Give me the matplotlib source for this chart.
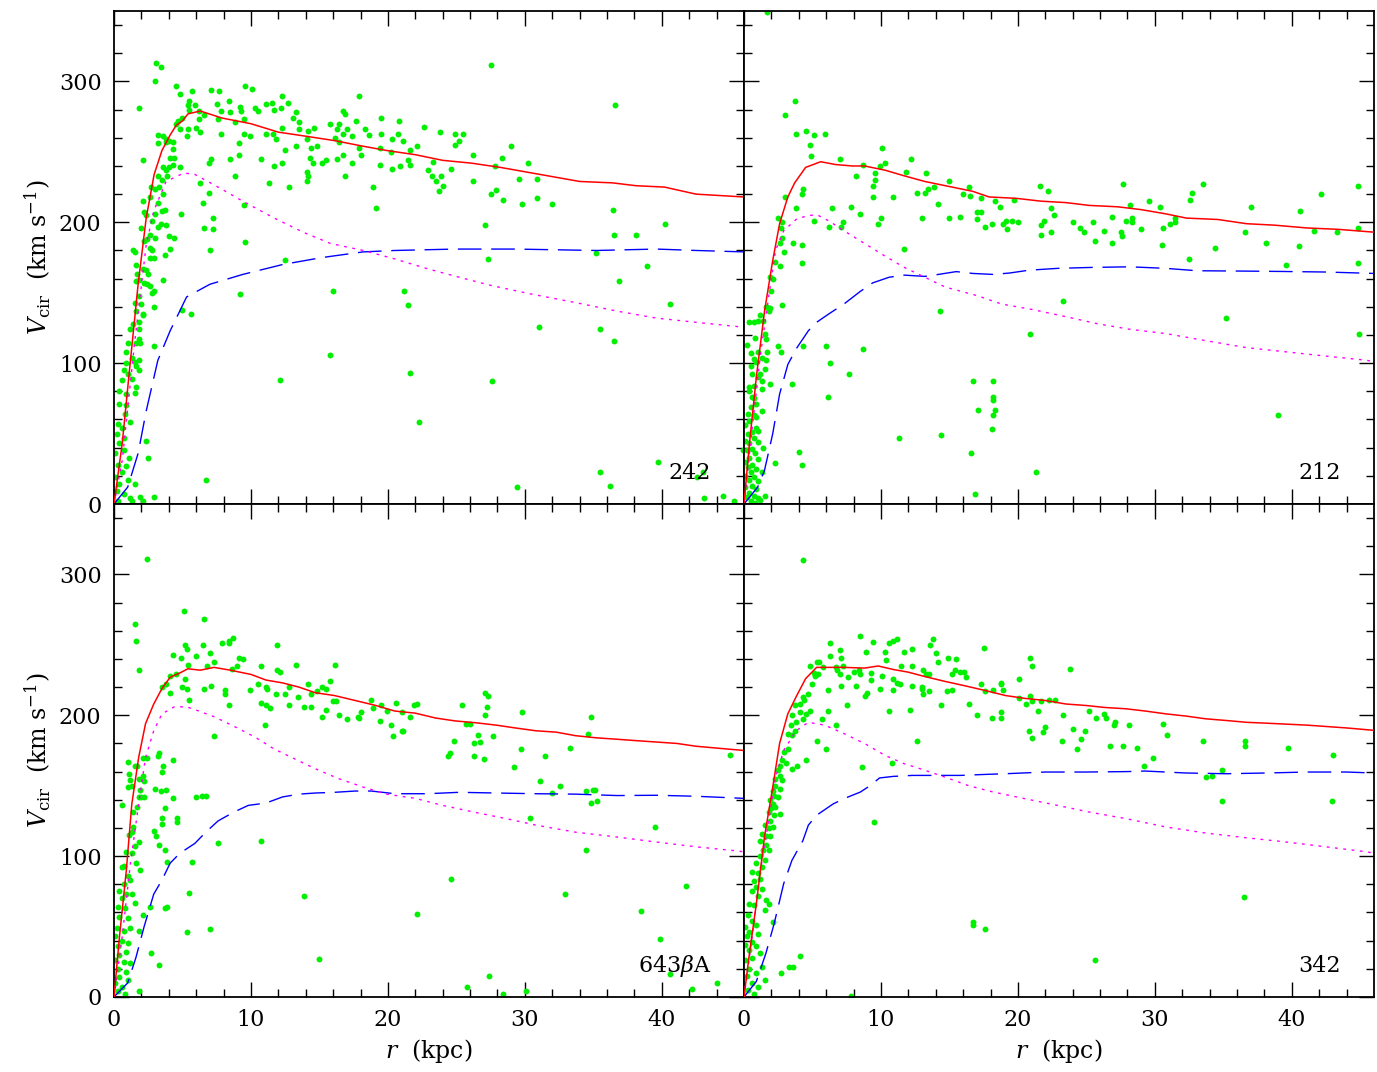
import numpy as np
import matplotlib.pyplot as plt

plt.rcParams['font.family'] = ['DejaVu Serif']
plt.rcParams['mathtext.fontset'] = 'dejavuserif'

# panel names (top-left, top-right, bottom-left, bottom-right)
names = ['242', '212', '643$\\beta$A', '342']

# ---- panel 242 ----
tot_242 = [(0, 0), (0.6, 43), (1.17, 99), (1.76, 156), (2.35, 203), (2.93, 234), (3.5, 251),
           (4.1, 262), (4.55, 269), (5.0, 272), (5.4, 277), (6.3, 279), (7.9, 274), (10, 270),
           (12, 264), (14.1, 261), (16.1, 258), (18.2, 254), (19.9, 251), (22, 248), (24, 244),
           (26.1, 242), (28.2, 239), (31.1, 234), (34, 229), (36.4, 228), (38.1, 226), (40.2, 225),
           (42.5, 220), (46, 218)]
star_242 = [(0, 0), (0.6, 31), (1.5, 114), (2.35, 184), (2.9, 208), (3.8, 229), (5.1, 235),
            (5.9, 234), (7.6, 225), (9.4, 215), (11.7, 203), (13.8, 193), (15.8, 185), (18.2, 180),
            (20.5, 174), (22.9, 167), (25.2, 161), (27.6, 155), (30.5, 149), (33.7, 143),
            (36.7, 137), (39.6, 132), (42.5, 129), (45.5, 126), (46, 125)]
dm_242 = [(0, 0), (1.0, 12), (1.76, 36), (2.35, 66), (3.2, 102), (4.1, 123), (5.3, 147), (7.0, 156),
          (9.4, 163), (12.3, 170), (15.2, 175), (18.2, 179), (20.5, 180), (24.9, 181), (29.3, 181),
          (35.2, 180), (39.6, 181), (42.5, 180), (46, 179)]
pts_242 = [(3.1, 313), (3.4, 310), (3.0, 300), (1.8, 281), (4.5, 297), (4.8, 291), (5.7, 293),
           (7.1, 294), (7.7, 293), (9.6, 297), (10.1, 295), (12.3, 290), (12.7, 285), (17.9, 290),
           (27.5, 312), (36.6, 283), (5.5, 286), (5.4, 283), (5.5, 280), (5.9, 283), (6.2, 279),
           (6.6, 276), (6.2, 273), (5.0, 274), (4.7, 272), (4.5, 270), (4.8, 266), (5.4, 266),
           (5.3, 261), (6.0, 267), (6.3, 264), (7.5, 284), (8.4, 286), (7.8, 279), (8.5, 278),
           (9.2, 282), (9.3, 279), (10.3, 281), (10.5, 279), (11.1, 284), (11.5, 285), (11.7, 280),
           (12.2, 281), (13.1, 274), (13.3, 278), (13.5, 271), (13.5, 266), (14.2, 265), (14.6, 267),
           (15.8, 270), (16.4, 270), (16.3, 266), (16.7, 279), (16.9, 277), (17.0, 266), (17.7, 272),
           (18.3, 266), (18.6, 262), (19.5, 274), (19.5, 263), (20.3, 259), (20.8, 272), (20.7, 263),
           (21.1, 258), (22.6, 268), (23.8, 264), (24.9, 263), (25.5, 263), (25.2, 258), (24.9, 255),
           (7.6, 273), (7.8, 263), (8.8, 271), (9.5, 273), (9.5, 263), (9.9, 261), (11.1, 263),
           (11.6, 263), (11.8, 259), (12.3, 267), (12.5, 251), (13.3, 254), (14.1, 259), (14.4, 253),
           (14.8, 254), (14.3, 246), (14.5, 242), (15.2, 242), (15.5, 244), (16.3, 245), (16.7, 248),
           (16.1, 260), (16.4, 257), (16.7, 263), (17.4, 261), (17.9, 253), (18.0, 248), (17.4, 242),
           (16.9, 233), (19.4, 253), (19.4, 241), (20.3, 238), (20.9, 240), (20.2, 250), (21.6, 251),
           (21.5, 244), (21.6, 241), (22.1, 254), (23.3, 243), (22.9, 237), (23.2, 233), (23.5, 229),
           (23.7, 222), (23.9, 233), (24.0, 226), (24.6, 238), (26.2, 248), (26.2, 229), (27.8, 240),
           (28.3, 246), (29.0, 254), (30.2, 242), (29.6, 231), (30.9, 231), (30.9, 217), (32.0, 213),
           (29.8, 213), (28.4, 216), (27.5, 220), (27.9, 223), (12.8, 225), (11.3, 228), (14.1, 236),
           (14.2, 233), (14.1, 229), (11.7, 240), (12.3, 242), (10.7, 245), (8.8, 233), (8.5, 245),
           (9.1, 256), (9.1, 248), (6.9, 242), (7.1, 245), (6.3, 228), (6.9, 221), (6.5, 214),
           (7.2, 203), (7.2, 195), (6.6, 196), (7.0, 180), (4.9, 206), (4.4, 246), (4.8, 239),
           (18.9, 225), (19.1, 210), (27.1, 198), (36.4, 209), (36.5, 191), (38.1, 191), (40.2, 199),
           (35.2, 178), (27.3, 174), (38.9, 169), (36.9, 158), (40.6, 142), (31.0, 126), (35.5, 124),
           (36.5, 116), (21.2, 151), (21.5, 141), (16.0, 151), (15.8, 106), (21.6, 93), (27.6, 87),
           (12.1, 88), (22.3, 58), (9.2, 149), (9.6, 186), (9.5, 212), (12.5, 173), (5.0, 138),
           (5.6, 135), (6.7, 17), (2.9, 5), (2.1, 2), (29.4, 12), (35.5, 23), (36.2, 13), (39.7, 30),
           (42.6, 19), (43.0, 23), (43.1, 4), (44.5, 6), (45.3, 2), (45.9, 38), (3.6, 159), (2.9, 140),
           (2.9, 112), (2.3, 45), (2.5, 33), (2.9, 151), (2.1, 244), (3.2, 256), (3.2, 262), (3.6, 261),
           (3.8, 259), (3.8, 257), (4.0, 258), (4.3, 257), (4.3, 252), (4.1, 246), (4.3, 241),
           (4.0, 239), (3.6, 239), (3.8, 237), (3.9, 233), (3.2, 233), (3.5, 230), (3.3, 225),
           (3.0, 224), (2.7, 225), (2.6, 218), (3.6, 220), (3.2, 214), (3.5, 208), (3.7, 209),
           (3.0, 206), (2.1, 215), (2.2, 207), (2.3, 205), (2.8, 201), (2.0, 196), (2.2, 187),
           (2.4, 188), (2.8, 180), (2.9, 175), (2.6, 175), (2.6, 182), (3.8, 198), (3.4, 199),
           (4.0, 190), (4.4, 189), (4.1, 181), (3.7, 177), (3.0, 189), (3.2, 197), (2.6, 191),
           (1.4, 180), (1.5, 179), (1.6, 170), (1.7, 163), (2.1, 167), (2.3, 166), (2.5, 163),
           (1.8, 159), (1.6, 158), (2.2, 157), (2.4, 156), (2.6, 155), (2.8, 150), (1.8, 148),
           (1.5, 143), (2.0, 142), (1.6, 137), (2.1, 135), (2.1, 134), (1.8, 129), (1.4, 128),
           (1.2, 124), (1.8, 124), (1.9, 114), (1.6, 114), (1.8, 117), (1.0, 114), (0.9, 108),
           (1.3, 104), (1.5, 101), (1.8, 102), (1.6, 98), (1.8, 95), (0.9, 100), (0.7, 95), (1.0, 92),
           (1.3, 89), (0.6, 88), (0.4, 80), (0.9, 78), (1.5, 79), (1.6, 83), (0.4, 71), (0.9, 70),
           (0.8, 64), (0.3, 57), (0.6, 54), (0.2, 50), (0.7, 47), (1.2, 58), (0.4, 43), (0.1, 36),
           (0.7, 38), (1.1, 33), (0.3, 28), (0.9, 27), (0.6, 23), (0.1, 19), (1.0, 17), (0.4, 14),
           (1.5, 14), (0.2, 9), (0.7, 7), (1.2, 4), (0.3, 2), (1.3, 2), (1.9, 5)]

# ---- panel 212 ----
tot_212 = [(0, 0), (0.4, 43), (0.9, 90), (1.5, 137), (2.1, 173), (2.6, 199), (3.2, 218), (3.7, 228),
           (4.5, 239), (5.6, 243), (6.7, 241), (7.9, 240), (8.8, 240), (10.3, 237), (11.7, 233),
           (13.2, 229), (15.2, 225), (16.7, 222), (17.9, 218), (19.9, 217), (21.7, 215), (23.5, 214),
           (25.2, 212), (27.3, 211), (29.0, 209), (30.8, 206), (32.3, 203), (34.6, 202), (36.7, 199),
           (38.7, 198), (41.1, 196), (43.4, 195), (46, 193)]
star_212 = [(0, 0), (0.6, 54), (1.2, 106), (1.8, 147), (2.3, 180), (2.9, 194), (3.8, 202), (4.7, 205),
            (5.4, 205), (6.2, 201), (7.3, 194), (8.8, 185), (10.3, 176), (11.7, 168), (13.2, 161),
            (14.7, 154), (17.0, 148), (18.8, 142), (21.1, 138), (23.5, 133), (25.8, 128), (28.2, 124),
            (30.8, 121), (33.7, 116), (36.7, 111), (39.6, 108), (42.5, 105), (45.5, 102), (46, 101)]
dm_212 = [(0, 0), (1.0, 12), (1.5, 24), (2.1, 50), (2.6, 78), (3.2, 99), (3.8, 110), (4.7, 123),
          (5.3, 129), (6.2, 135), (7.3, 142), (8.5, 151), (9.4, 157), (10.6, 161), (11.7, 162.5),
          (13.2, 161.6), (14.2, 163), (15.5, 165), (16.7, 163.7), (18.2, 163), (19.4, 164), (20.8, 166),
          (22.9, 167.3), (25.5, 168), (28.2, 168.4), (30.8, 167.3), (33.1, 165.6), (36.1, 165.4),
          (39.3, 165.1), (42.5, 164.7), (46, 163.7)]
pts_212 = [(1.7, 349), (3.7, 286), (3.0, 276), (3.8, 263), (4.5, 265), (5.1, 262), (5.9, 263),
           (4.8, 255), (4.9, 247), (10.1, 253), (10.3, 242), (9.9, 240), (9.6, 235), (9.6, 230),
           (9.4, 226), (9.4, 218), (7.0, 245), (8.7, 241), (8.2, 233), (12.2, 245), (11.8, 236),
           (13.3, 235), (12.6, 221), (13.2, 221), (13.4, 224), (13.9, 225), (15.0, 229), (10.9, 218),
           (16.4, 225), (16.0, 220), (16.5, 219), (17.3, 217), (14.2, 213), (13.0, 203), (15.0, 203),
           (15.8, 204), (17.0, 207), (17.3, 207), (17.0, 202), (17.6, 197), (18.1, 199), (18.3, 215),
           (18.7, 211), (18.9, 199), (19.1, 201), (19.2, 195), (19.6, 201), (20.0, 200), (19.7, 216),
           (21.6, 226), (22.2, 222), (22.4, 210), (22.6, 205), (21.9, 201), (21.7, 198), (21.7, 191),
           (22.4, 193), (24.0, 200), (24.5, 196), (24.8, 193), (25.5, 200), (25.6, 187), (26.3, 194),
           (26.9, 204), (26.9, 185), (27.5, 193), (27.6, 190), (27.7, 227), (27.9, 201), (28.2, 212),
           (28.3, 203), (28.3, 200), (29.0, 195), (29.6, 215), (30.4, 211), (30.6, 196), (30.5, 184),
           (31.1, 199), (31.5, 200), (31.5, 203), (32.5, 174), (32.6, 216), (32.7, 221), (33.5, 227),
           (34.4, 182), (36.6, 193), (37.0, 211), (38.1, 185), (39.6, 170), (40.5, 183), (40.6, 208),
           (41.6, 194), (42.1, 220), (43.3, 193), (44.8, 196), (44.8, 226), (44.8, 171), (44.9, 121),
           (35.2, 132), (39.0, 63), (23.3, 144), (20.9, 121), (14.3, 137), (11.7, 181), (16.7, 87),
           (18.2, 87), (18.2, 76), (18.2, 74), (18.3, 67), (18.2, 63), (18.1, 53), (17.1, 67),
           (16.6, 36), (16.9, 7), (21.3, 23), (14.4, 49), (11.3, 47), (7.7, 92), (6.1, 76), (6.3, 100),
           (6.0, 112), (8.7, 110), (4.3, 112), (3.5, 85), (4.0, 37), (4.2, 28), (2.3, 29), (1.5, 6),
           (6.2, 197), (6.4, 210), (7.1, 197), (7.2, 200), (7.8, 211), (8.5, 206), (9.8, 199),
           (10.0, 203), (5.1, 201), (4.2, 184), (4.2, 171), (3.6, 185), (3.8, 210), (4.3, 224),
           (4.2, 220), (3.0, 218), (2.5, 203), (2.7, 196), (2.8, 189), (2.6, 185), (2.9, 179),
           (2.8, 200), (2.3, 172), (2.6, 169), (1.9, 161), (2.1, 160), (2.0, 151), (1.7, 140),
           (1.9, 139), (1.8, 137), (2.8, 141), (1.6, 140), (1.2, 134), (1.0, 130), (1.4, 130),
           (0.4, 129), (0.7, 129), (1.5, 121), (0.8, 118), (1.6, 117), (0.2, 113), (2.5, 112),
           (2.7, 108), (1.0, 108), (1.7, 108), (0.5, 107), (1.3, 104), (0.7, 103), (1.6, 102),
           (0.9, 101), (0.5, 98), (1.5, 96), (1.2, 92), (0.6, 92), (1.0, 90), (1.3, 87), (0.7, 84),
           (0.4, 83), (1.9, 85), (1.3, 82), (0.4, 80), (0.6, 76), (0.7, 75), (0.9, 71), (0.5, 69),
           (0.3, 64), (0.7, 63), (0.9, 62), (1.3, 66), (0.4, 59), (0.1, 56), (0.9, 54), (0.6, 51),
           (1.0, 52), (0.3, 50), (0.7, 47), (0.1, 45), (0.4, 43), (1.0, 44), (0.6, 39), (1.4, 40),
           (0.2, 38), (0.8, 36), (0.4, 33), (1.0, 32), (0.1, 30), (0.6, 28), (0.3, 26), (0.9, 25),
           (0.5, 23), (1.3, 23), (0.1, 20), (0.7, 19), (0.4, 17), (1.0, 16), (0.6, 13), (0.1, 12),
           (0.9, 11), (0.4, 8), (0.7, 6), (0.2, 5), (1.0, 4), (0.5, 2), (0.8, 1), (1.2, 3)]

# ---- panel 643bA ----
tot_643 = [(0, 0), (0.4, 43), (0.9, 90), (1.3, 137), (1.8, 170), (2.3, 194), (2.9, 208), (3.5, 219),
           (4.1, 227), (4.8, 230), (5.4, 233), (6.3, 232), (7.3, 234), (8.5, 232), (10.0, 229),
           (11.1, 225), (12.3, 223), (13.5, 220), (14.7, 216), (16.1, 214), (17.6, 210.5), (19.1, 207),
           (20.5, 203), (22.0, 201.5), (23.5, 198), (24.9, 196), (26.4, 194.7), (27.9, 193), (29.3, 191),
           (30.8, 189), (32.3, 188), (33.7, 185.5), (35.2, 184), (36.7, 183), (38.1, 182), (39.6, 181),
           (41.1, 180), (42.5, 178), (44, 176.7), (46, 175)]
star_643 = [(0, 0), (0.6, 43), (1.2, 95), (1.8, 137), (2.3, 170), (2.9, 189), (3.5, 201), (4.4, 206),
            (5.3, 206), (6.2, 203), (7.3, 199), (8.8, 192), (10.3, 184.5), (11.7, 176), (13.2, 169),
            (14.7, 162), (16.4, 155), (18.2, 149), (19.9, 144), (22.0, 141), (24.0, 136), (26.4, 131),
            (28.7, 126.5), (30.8, 122), (33.7, 117), (36.7, 113.6), (39.6, 110), (42.5, 106.6),
            (45.5, 103.7), (46, 103)]
dm_643 = [(0, 0), (1.0, 10), (1.6, 28), (2.2, 50), (2.9, 73), (3.5, 83), (4.1, 95), (4.8, 102),
          (5.9, 109), (6.7, 117), (7.6, 125), (8.7, 131), (9.8, 136), (11.1, 137.7), (12.3, 142),
          (13.5, 144), (14.7, 144.8), (16.1, 145.3), (17.6, 146.2), (18.8, 146.2), (20.5, 144.3),
          (22.9, 144.3), (25.2, 145.3), (27.9, 144.8), (30.8, 144.3), (33.7, 144), (36.7, 143),
          (39.6, 143.2), (42.5, 142.5), (46, 141)]
pts_643 = [(2.4, 311), (1.5, 265), (1.6, 253), (1.8, 232), (5.1, 274), (6.6, 268), (5.2, 250),
           (5.3, 247), (6.5, 250), (7.0, 244), (7.9, 251), (8.4, 251), (8.4, 253), (8.7, 255),
           (11.9, 250), (4.3, 243), (4.9, 241), (6.0, 242), (5.4, 236), (6.8, 235), (7.3, 238),
           (9.1, 241), (9.4, 240), (9.0, 235), (8.6, 233), (10.7, 235), (11.9, 232), (12.1, 231),
           (13.3, 236), (16.1, 236), (4.1, 228), (4.5, 229), (5.2, 226), (3.8, 222), (3.5, 220),
           (4.1, 216), (5.0, 220), (5.3, 219), (5.5, 211), (6.6, 219), (7.1, 221), (8.1, 218),
           (8.1, 215), (8.4, 207), (7.3, 185), (9.9, 218), (10.5, 222), (11.1, 220), (11.2, 219),
           (10.7, 209), (11.1, 207), (11.4, 205), (11.0, 193), (11.8, 215), (12.5, 215), (12.8, 220),
           (13.4, 213), (12.8, 207), (13.9, 206), (14.4, 206), (14.4, 215), (14.2, 222), (14.8, 217),
           (15.2, 220), (15.5, 219), (15.8, 224), (16.0, 210), (16.2, 210), (15.5, 204), (15.2, 199),
           (16.4, 200), (17.0, 197), (17.8, 199), (18.0, 202), (17.9, 198), (18.8, 211), (18.9, 205),
           (19.4, 196), (19.5, 207), (19.9, 203), (20.2, 193), (20.4, 185), (20.6, 209), (21.0, 189),
           (21.1, 189), (21.0, 202), (21.6, 199), (21.9, 207), (22.1, 208), (24.4, 171), (24.5, 173),
           (24.8, 182), (25.4, 207), (25.7, 194), (26.0, 194), (26.6, 186), (26.3, 180), (26.7, 181),
           (26.3, 171), (27.0, 169), (27.1, 216), (27.3, 214), (27.2, 206), (27.1, 200), (27.7, 185),
           (29.8, 202), (29.7, 176), (29.2, 163), (31.5, 171), (31.1, 153), (32.0, 145), (32.6, 150),
           (33.3, 177), (34.6, 187), (34.8, 199), (34.5, 146), (35.0, 147), (35.1, 147), (34.8, 138),
           (35.3, 139), (30.4, 127), (34.5, 104), (39.5, 121), (45.0, 172), (41.8, 79), (38.5, 61),
           (39.9, 41), (40.6, 16), (42.2, 6), (44.0, 10), (32.9, 73), (24.6, 84), (22.1, 59),
           (27.4, 15), (25.8, 7), (28.4, 2), (30.1, 4), (15.0, 27), (13.9, 72), (10.7, 111),
           (7.6, 109), (7.0, 48), (5.7, 96), (5.5, 74), (5.3, 46), (6.0, 142), (6.4, 143), (6.7, 143),
           (3.9, 64), (3.7, 63), (2.6, 64), (2.1, 58), (2.7, 31), (3.3, 23), (1.8, 4), (4.3, 141),
           (4.3, 168), (4.6, 127), (4.6, 124), (3.7, 134), (3.5, 127), (3.5, 123), (3.1, 114),
           (3.3, 108), (3.7, 104), (3.9, 96), (2.9, 118), (3.0, 148), (3.8, 147), (3.4, 146),
           (3.5, 160), (3.6, 164), (3.3, 173), (3.2, 171), (2.4, 170), (2.1, 170), (1.7, 164),
           (1.5, 164), (1.0, 167), (1.1, 158), (1.2, 154), (1.0, 149), (1.3, 150), (1.8, 155),
           (2.1, 157), (2.2, 153), (1.9, 147), (2.0, 142), (2.2, 142), (1.8, 142), (1.7, 135),
           (0.6, 136), (1.4, 131), (1.4, 121), (1.3, 117), (1.1, 115), (1.8, 110), (1.5, 107),
           (1.3, 102), (0.9, 103), (0.7, 93), (1.6, 95), (1.9, 90), (0.6, 92), (1.0, 86), (1.2, 83),
           (0.7, 80), (0.4, 75), (0.9, 73), (0.6, 70), (1.3, 73), (1.5, 67), (0.3, 64), (0.8, 63),
           (0.4, 57), (1.0, 56), (0.2, 49), (0.7, 47), (1.2, 49), (1.8, 47), (0.1, 43), (0.6, 40),
           (1.0, 38), (0.3, 36), (0.9, 32), (0.4, 30), (0.1, 26), (0.7, 25), (1.2, 24), (0.3, 20),
           (0.9, 18), (0.4, 14), (1.0, 12), (0.1, 10), (0.6, 7), (0.3, 4), (0.8, 2)]

# ---- panel 342 ----
tot_342 = [(0, 0), (0.4, 31), (0.9, 66), (1.5, 114), (2.1, 149), (2.6, 180), (3.2, 201), (3.8, 213),
           (4.5, 226), (5.3, 234), (6.2, 234), (7.3, 234), (8.8, 233.5), (9.8, 235), (10.9, 232.5),
           (12.0, 230.6), (13.2, 227.5), (14.7, 224), (16.1, 221), (17.6, 217.6), (19.1, 214),
           (20.5, 212), (22.0, 210.5), (23.5, 208), (24.9, 207), (26.4, 205.5), (27.9, 204.6),
           (29.3, 203), (30.8, 201), (32.3, 199.4), (33.7, 197.5), (35.2, 196.3), (36.7, 195),
           (38.1, 194.4), (41.1, 193), (44, 191), (46, 189.3)]
star_342 = [(0, 0), (0.6, 43), (1.2, 90), (1.8, 125), (2.3, 156), (2.9, 175), (3.8, 189), (4.7, 195),
            (5.9, 193), (7.3, 187), (8.8, 180), (10.3, 171.5), (11.7, 165.6), (13.2, 161), (14.7, 156),
            (16.4, 150), (18.2, 145.5), (20.5, 140.8), (22.9, 136), (25.2, 131.3), (27.9, 126.6),
            (30.8, 120.7), (33.7, 116.4), (36.7, 113), (39.6, 110), (42.5, 106.6), (45.5, 103), (46, 102)]
dm_342 = [(0, 0), (0.9, 11), (1.6, 31), (2.2, 52), (2.9, 80.5), (3.5, 97), (4.3, 111), (4.7, 122),
          (5.3, 129), (6.5, 137), (7.3, 140.8), (8.5, 145.5), (9.2, 150), (9.9, 155.5), (10.9, 156.6),
          (12.3, 157.3), (14.1, 157.3), (15.8, 157.3), (17.6, 158), (19.1, 158.5), (22.0, 159.7),
          (24.9, 159.7), (27.9, 160), (29.3, 160.4), (32.3, 159), (35.2, 158.5), (38.1, 159),
          (41.1, 159.7), (44, 159.7), (46, 159)]
pts_342 = [(4.3, 310), (8.5, 256), (9.4, 252), (10.6, 251), (10.9, 253), (11.2, 254), (13.8, 254),
           (13.6, 250), (17.5, 248), (6.3, 251), (7.0, 246), (8.9, 245), (10.3, 245), (11.7, 245),
           (12.3, 247), (14.0, 244), (6.3, 242), (7.1, 241), (10.4, 239), (14.9, 241), (15.5, 240),
           (14.2, 238), (20.9, 241), (21.0, 235), (23.8, 233), (4.8, 235), (5.3, 238), (5.5, 238),
           (5.8, 234), (6.7, 234), (7.2, 235), (6.8, 232), (7.0, 229), (7.6, 227), (8.0, 231),
           (8.4, 232), (8.5, 229), (9.3, 230), (9.3, 225), (10.1, 228), (10.9, 226), (11.2, 223),
           (11.4, 222), (11.5, 235), (12.3, 235), (12.3, 221), (13.0, 220), (13.0, 219), (13.1, 232),
           (13.3, 229), (13.5, 229), (13.5, 217), (13.1, 215), (15.2, 229), (15.4, 232), (15.8, 231),
           (16.1, 231), (16.2, 227), (15.2, 218), (14.8, 217), (14.4, 207), (16.4, 208), (17.3, 222),
           (17.6, 217), (18.2, 218), (18.8, 223), (18.8, 222), (18.9, 218), (17.0, 200), (18.1, 198),
           (18.8, 202), (18.8, 198), (20.1, 226), (20.1, 212), (20.6, 208), (20.9, 214), (21.0, 210),
           (21.5, 203), (21.7, 210), (22.3, 211), (22.7, 211), (20.8, 189), (21.0, 184), (21.8, 188),
           (22.0, 192), (23.3, 200), (24.0, 190), (23.2, 182), (24.6, 183), (24.9, 189), (24.3, 176),
           (25.2, 203), (25.7, 198), (26.3, 201), (26.4, 198), (27.0, 193), (27.1, 195), (28.1, 193),
           (26.7, 178), (27.7, 178), (28.7, 177), (30.6, 194), (30.9, 186), (29.9, 170), (29.2, 164),
           (33.5, 182), (33.7, 156), (34.2, 157), (34.9, 161), (34.9, 139), (36.6, 182), (36.6, 178),
           (39.7, 177), (43.0, 172), (42.9, 139), (36.5, 71), (25.6, 26), (16.7, 53), (16.7, 51),
           (17.6, 48), (7.8, 1), (9.5, 124), (8.6, 163), (10.8, 166), (12.6, 182), (12.1, 204),
           (10.6, 203), (10.9, 218), (9.9, 219), (9.0, 216), (8.8, 214), (8.2, 221), (7.5, 207),
           (7.1, 221), (6.1, 218), (6.7, 193), (6.1, 203), (6.0, 176), (5.3, 182), (5.7, 197),
           (4.5, 168), (4.8, 203), (4.7, 215), (5.1, 230), (5.4, 229), (5.2, 228), (5.0, 222),
           (4.3, 213), (4.4, 211), (4.1, 208), (4.5, 201), (4.1, 202), (4.3, 197), (3.7, 207),
           (3.5, 200), (3.8, 195), (3.4, 193), (3.7, 189), (3.2, 187), (3.5, 186), (3.2, 176),
           (2.9, 174), (2.8, 168), (3.1, 166), (3.5, 162), (3.9, 164), (2.6, 164), (2.5, 161),
           (2.6, 157), (2.3, 155), (2.8, 154), (2.3, 150), (2.6, 148), (2.1, 146), (2.2, 143),
           (2.5, 142), (1.9, 140), (2.1, 137), (2.3, 135), (2.0, 134), (2.6, 130), (1.8, 131),
           (2.2, 129), (1.9, 125), (1.5, 122), (1.8, 120), (2.1, 121), (1.3, 116), (1.6, 114),
           (1.9, 114), (1.2, 111), (1.6, 108), (1.4, 104), (1.8, 104), (1.2, 100), (1.5, 97),
           (0.9, 95), (1.3, 92), (0.6, 89), (1.0, 88), (1.2, 84), (0.7, 82), (0.9, 78), (1.3, 77),
           (0.6, 75), (1.0, 72), (1.6, 69), (1.8, 66), (0.4, 66), (0.7, 65), (1.5, 62), (0.3, 58),
           (2.1, 53), (0.6, 54), (0.9, 51), (0.1, 50), (0.4, 46), (1.0, 45), (0.2, 43), (0.6, 39),
           (0.1, 37), (0.9, 36), (0.4, 33), (1.2, 31), (0.6, 28), (0.1, 26), (1.3, 21), (0.4, 20),
           (0.9, 17), (0.2, 15), (1.5, 12), (0.6, 10), (1.0, 7), (0.3, 5), (0.7, 2), (2.7, 17),
           (3.3, 21), (3.6, 21), (4.1, 29)]

panels = [(pts_242, tot_242, star_242, dm_242),
          (pts_212, tot_212, star_212, dm_212),
          (pts_643, tot_643, star_643, dm_643),
          (pts_342, tot_342, star_342, dm_342)]

fig, axs = plt.subplots(2, 2, figsize=(13.77, 10.72), dpi=100, sharex=True, sharey=True)
plt.subplots_adjust(left=0.0828, right=0.9978, top=0.9897, bottom=0.070, hspace=0, wspace=0)

for k, ax in enumerate(axs.flat):
    pts, tot, star, dm = [np.array(a) for a in panels[k]]
    ax.scatter(pts[:, 0], pts[:, 1], s=18, color='#00f000', linewidths=0, zorder=2)
    ax.plot(dm[:, 0], dm[:, 1], color='#0000ff', lw=1.0, dashes=(17, 7), zorder=3)
    ax.plot(star[:, 0], star[:, 1], color='#ff00ff', lw=1.0, dashes=(2, 4), zorder=3)
    ax.plot(tot[:, 0], tot[:, 1], color='#ff0000', lw=1.1, zorder=4)
    ax.text(0.948, 0.05, names[k], transform=ax.transAxes, ha='right', va='baseline', fontsize=16)

    ax.set_xlim(0, 46)
    ax.set_ylim(0, 350)
    ax.set_xticks(np.arange(0, 41, 10))
    ax.set_xticks(np.arange(0, 46, 2), minor=True)
    ax.set_yticks(np.arange(0, 301, 100))
    ax.set_yticks(np.arange(0, 351, 20), minor=True)
    ax.tick_params(which='both', direction='in', top=True, right=True, width=1.0, labelsize=16)
    ax.tick_params(which='major', length=11, pad=9)
    ax.tick_params(which='minor', length=5.5)
    for sp in ax.spines.values():
        sp.set_linewidth(1.3)

for ax in axs[1, :]:
    ax.set_xlabel('$r$  (kpc)', fontsize=17)
for ax in axs[:, 0]:
    ax.set_ylabel('$V_{\\rm cir}$  (km s$^{-1}$)', fontsize=17)

fig.savefig('out.png', dpi=100)
